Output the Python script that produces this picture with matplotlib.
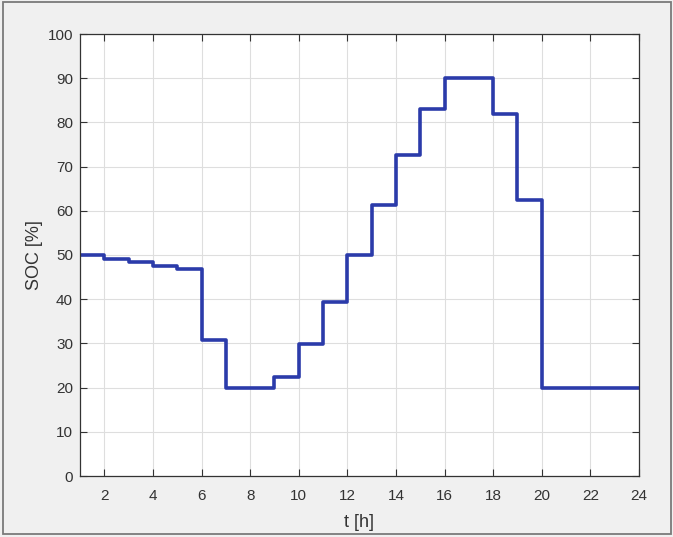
import matplotlib
matplotlib.use("Agg")
import matplotlib.pyplot as plt
from matplotlib.patches import Rectangle

# Hourly SOC values (value held over each hour, step starting at hour t)
hours = [1, 2, 3, 4, 5, 6, 7, 8, 9, 10, 11, 12, 13, 14, 15, 16, 17, 18, 19, 20, 21, 22, 23, 24]
soc = [50.0, 49.2, 48.4, 47.6, 46.8, 30.8, 20.0, 20.0, 22.3, 29.9, 39.3, 50.0,
       61.4, 72.7, 83.1, 90.0, 90.0, 81.8, 62.4, 20.0, 20.0, 20.0, 20.0, 20.0]
xticks = [2, 4, 6, 8, 10, 12, 14, 16, 18, 20, 22, 24]
yticks = [0, 10, 20, 30, 40, 50, 60, 70, 80, 90, 100]

plt.rcParams['font.family'] = ['Liberation Sans', 'DejaVu Sans']

fig = plt.figure(figsize=(6.73, 5.37), dpi=100, facecolor='#F0F0F0')
fig.patches.append(Rectangle((0.005, 0.005), 0.992, 0.991, transform=fig.transFigure,
                             fill=False, edgecolor='#7a7a7a', linewidth=1.3))
ax = fig.add_axes([80/673, 1 - 476/537, (639-80)/673, (476-34)/537])
ax.set_facecolor('white')

ax.step(hours, soc, where='post', color='#2B3BAA', linewidth=2.6)

ax.set_xlim(1, 24)
ax.set_ylim(0, 100)
ax.set_xticks(xticks)
ax.set_yticks(yticks)
ax.grid(True, color='#dedede', linewidth=0.8)
ax.set_axisbelow(True)

ax.tick_params(direction='in', length=5, width=0.8, colors='#333333', labelsize=11,
               top=True, right=True, labeltop=False, labelright=False)
ax.tick_params(axis='x', pad=9)
ax.tick_params(axis='y', pad=5)
for s in ax.spines.values():
    s.set_color('#333333')
    s.set_linewidth(0.9)

ax.set_xlabel('t [h]', fontsize=13, color='#333333', labelpad=8)
ax.set_ylabel('SOC [%]', fontsize=13, color='#333333', labelpad=3)

fig.savefig('out.png', dpi=100, facecolor=fig.get_facecolor())
